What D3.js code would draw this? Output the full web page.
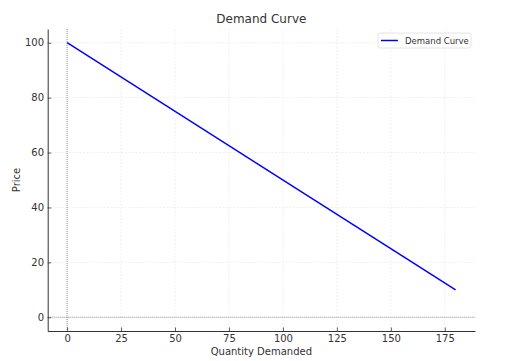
<!DOCTYPE html>
<html><head><meta charset="utf-8">
<script src="https://cdn.jsdelivr.net/npm/d3@7"></script>
<style>body{margin:0;background:#fff;}svg{display:block;font-family:"DejaVu Sans",sans-serif;}</style>
</head><body>
<svg id="c" width="513" height="361"></svg>
<script>
const quantity = [0, 180];
const price = [100, 10];
const xTicks = [0, 25, 50, 75, 100, 125, 150, 175];
const yTicks = [0, 20, 40, 60, 80, 100];
const seriesName = "Demand Curve";
const title = "Demand Curve";
const xLabel = "Quantity Demanded";
const yLabel = "Price";

const svg = d3.select("#c");
const L = 47.7, R = 475, T = 29, B = 331;
const x = d3.scaleLinear().domain([-9, 189]).range([L, R]);
const y = d3.scaleLinear().domain([-5, 105]).range([B, T]);
const txt = "#333";

// grid
const g = svg.append("g");
g.selectAll(".gx").data(xTicks).join("line")
  .attr("x1", d => x(d)).attr("x2", d => x(d)).attr("y1", T).attr("y2", B)
  .attr("stroke", "#e6e6e6").attr("stroke-width", 0.6).attr("stroke-dasharray", "2,1.5");
g.selectAll(".gy").data(yTicks).join("line")
  .attr("y1", d => y(d)).attr("y2", d => y(d)).attr("x1", L).attr("x2", R)
  .attr("stroke", "#e6e6e6").attr("stroke-width", 0.6).attr("stroke-dasharray", "2,1.5");

// zero lines
svg.append("line").attr("x1", x(0)).attr("x2", x(0)).attr("y1", T).attr("y2", B)
  .attr("stroke", "#888").attr("stroke-width", 0.9).attr("stroke-dasharray", "1,1");
svg.append("line").attr("y1", y(0)).attr("y2", y(0)).attr("x1", L).attr("x2", R)
  .attr("stroke", "#888").attr("stroke-width", 0.9).attr("stroke-dasharray", "1,1");

// line
const pts = quantity.map((q, i) => [q, price[i]]);
svg.append("path").datum(pts)
  .attr("d", d3.line().x(d => x(d[0])).y(d => y(d[1])))
  .attr("fill", "none").attr("stroke", "#0000ff").attr("stroke-width", 1.5);

// axes (ticks pointing inward)
const xa = svg.append("g").attr("transform", `translate(0,${B})`)
  .call(d3.axisBottom(x).tickValues(xTicks).tickSize(-3.5).tickPadding(4).tickSizeOuter(0));
const ya = svg.append("g").attr("transform", `translate(${L},0)`)
  .call(d3.axisLeft(y).tickValues(yTicks).tickSize(-3.5).tickPadding(3.7).tickSizeOuter(0));
[xa, ya].forEach(a => {
  a.select(".domain").attr("stroke", "#333").attr("stroke-width", 1);
  a.selectAll(".tick line").attr("stroke", "#333").attr("stroke-width", 0.8);
  a.selectAll(".tick text").attr("fill", txt).style("font-size", "10px").style("font-family", "DejaVu Sans");
});

// title & labels
svg.append("text").attr("x", (L + R) / 2).attr("y", 23).attr("text-anchor", "middle")
  .attr("fill", txt).style("font-size", "12px").text(title);
svg.append("text").attr("x", (L + R) / 2).attr("y", 355).attr("text-anchor", "middle")
  .attr("fill", txt).style("font-size", "10px").text(xLabel);
svg.append("text").attr("transform", `translate(20,${(T + B) / 2}) rotate(-90)`).attr("text-anchor", "middle")
  .attr("fill", txt).style("font-size", "10px").text(yLabel);

// legend
const lg = svg.append("g");
lg.append("rect").attr("x", 378).attr("y", 33).attr("width", 93).attr("height", 15).attr("rx", 2)
  .attr("fill", "#fff").attr("stroke", "#ddd").attr("stroke-width", 0.8);
lg.append("line").attr("x1", 381).attr("x2", 398).attr("y1", 40.5).attr("y2", 40.5)
  .attr("stroke", "#0000ff").attr("stroke-width", 1.5);
lg.append("text").attr("x", 405).attr("y", 43.5).attr("fill", txt).style("font-size", "8.5px").text(seriesName);
</script>
</body></html>
